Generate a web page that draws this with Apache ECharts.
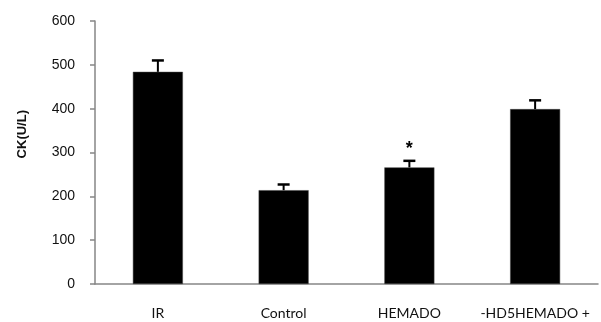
<!DOCTYPE html>
<html>
<head>
<meta charset="utf-8">
<script src="https://cdn.jsdelivr.net/npm/echarts@6/dist/echarts.min.js"></script>
<style>html,body{margin:0;padding:0;background:#fff}#c{width:601px;height:322px}</style>
</head>
<body>
<div id="c"></div>
<script>
var categories = ['IR', 'Control', 'HEMADO', '-HD5HEMADO +'];
var values = [484, 214, 266, 399];
var errors = [26, 13, 15, 20];
var marks = ['', '', '*', ''];
var yTicks = [0, 100, 200, 300, 400, 500, 600];

var chart = echarts.init(document.getElementById('c'), null, {renderer: 'canvas'});
chart.setOption({
  animation: false,
  backgroundColor: '#fff',
  grid: {left: 95, right: 3, top: 21, bottom: 38, containLabel: false},
  xAxis: {
    type: 'category',
    data: categories,
    axisLine: {lineStyle: {color: '#868686', width: 1.5}},
    axisTick: {show: false},
    axisLabel: {color: '#111', fontFamily: 'Lato', fontSize: 14, margin: 22, interval: 0, hideOverlap: false}
  },
  yAxis: {
    type: 'value',
    min: yTicks[0], max: yTicks[yTicks.length - 1], interval: 100,
    splitLine: {show: false},
    axisLine: {show: true, lineStyle: {color: '#868686', width: 1.5}},
    axisTick: {show: true, length: 5, lineStyle: {color: '#868686', width: 1.5}},
    axisLabel: {color: '#111', fontFamily: 'Liberation Sans', fontSize: 14, margin: 20}
  },
  graphic: [{
    type: 'text', left: 16, top: 110, rotation: Math.PI / 2,
    style: {text: 'CK(U/L)', font: 'bold 13px "Liberation Sans"', fill: '#111'}
  }],
  series: [{
    type: 'bar',
    data: values,
    barWidth: 50,
    itemStyle: {color: '#000', borderColor: '#444', borderWidth: 0.5},
    z: 2
  }, {
    type: 'custom',
    data: values.map(function (v, i) { return [i, v, errors[i], marks[i]]; }),
    renderItem: function (params, api) {
      var x = api.value(0), v = api.value(1), e = api.value(2);
      var p0 = api.coord([x, v]);
      var p1 = api.coord([x, v + e]);
      var children = [
        {type: 'line', shape: {x1: p0[0], y1: p0[1], x2: p1[0], y2: p1[1]}, style: {stroke: '#000', lineWidth: 2}},
        {type: 'line', shape: {x1: p1[0] - 6, y1: p1[1], x2: p1[0] + 6, y2: p1[1]}, style: {stroke: '#000', lineWidth: 2.5}}
      ];
      var m = marks[params.dataIndex];
      if (m) {
        children.push({type: 'text', x: p1[0], y: p1[1] - 3,
          style: {text: m, font: 'bold 18px "Liberation Sans"', fill: '#000', align: 'center', verticalAlign: 'bottom'}});
      }
      return {type: 'group', children: children};
    },
    z: 3
  }]
});
</script>
</body>
</html>
